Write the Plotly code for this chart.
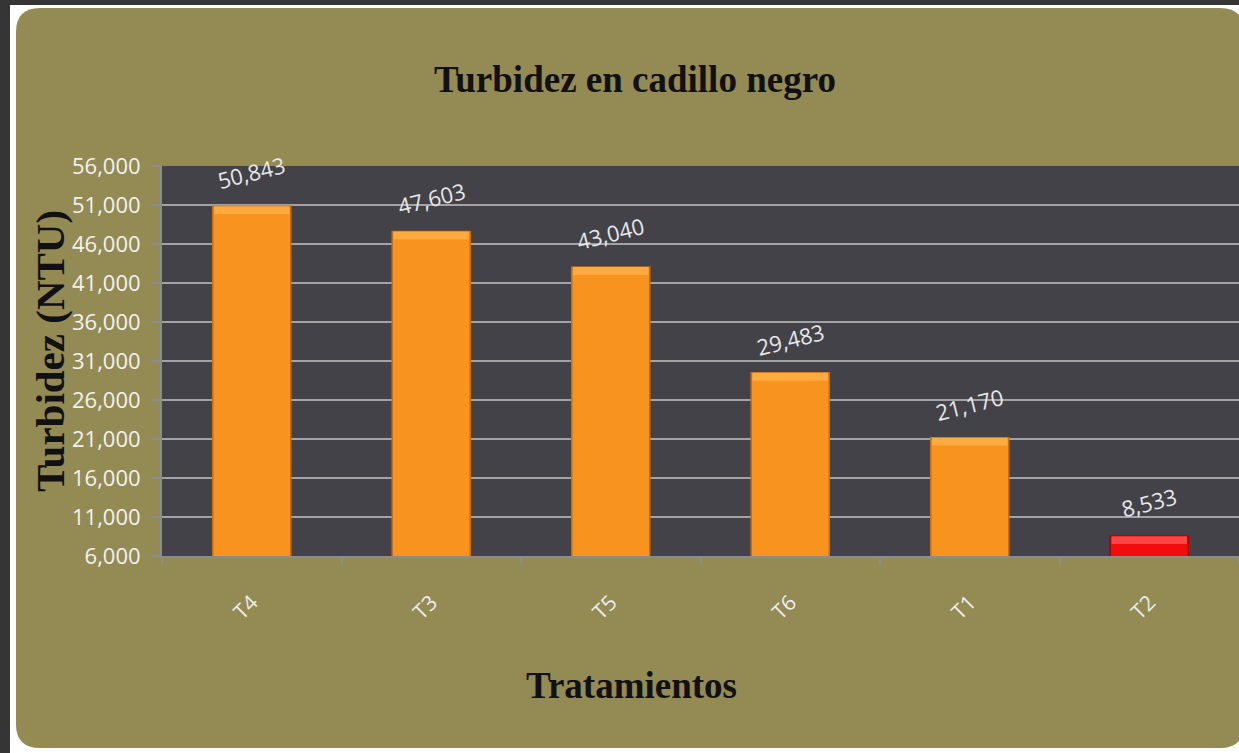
import plotly.graph_objects as go

categories = ["T4", "T3", "T5", "T6", "T1", "T2"]
values = [50843, 47603, 43040, 29483, 21170, 8533]
labels = ["50,843", "47,603", "43,040", "29,483", "21,170", "8,533"]
y_ticks = [6000, 11000, 16000, 21000, 26000, 31000, 36000, 41000, 46000, 51000, 56000]

W, H = 1239, 753
L, R, T, B = 162, 0, 166, 197
PW, PH = W - L - R, H - T - B

def px(x):
    return (x - L) / PW

def py(y):
    return (H - B - y) / PH

body_colors = ["#F7931E"] * 5 + ["#F20D0D"]
edge_colors = ["#C96C12"] * 5 + ["#A80000"]
cap_colors = ["#FFAB40"] * 5 + ["#FF4545"]
cap = 1000

fig = go.Figure()
fig.add_trace(go.Bar(
    x=categories, y=values,
    marker=dict(color=body_colors, line=dict(color=edge_colors, width=1.5)),
    width=0.435, hoverinfo="skip", showlegend=False,
))
fig.add_trace(go.Bar(
    x=categories, y=[cap] * len(values), base=[v - cap for v in values],
    marker=dict(color=cap_colors, line=dict(width=0)),
    width=0.42, hoverinfo="skip", showlegend=False,
))

for c, v, t in zip(categories, values, labels):
    fig.add_annotation(x=c, y=v, text=t, showarrow=False, yshift=34,
                       textangle=-14, xanchor="center", yanchor="middle",
                       font=dict(family="Open Sans", size=22, color="#E8E8E8"))

def rounded_rect(x0, y0, x1, y1, r):
    rx = r / PW
    ry = r / PH
    X0, X1 = px(x0), px(x1)
    Y0, Y1 = py(y0), py(y1)
    return (f"M {X0+rx},{Y0} L {X1-rx},{Y0} Q {X1},{Y0} {X1},{Y0-ry} "
            f"L {X1},{Y1+ry} Q {X1},{Y1} {X1-rx},{Y1} "
            f"L {X0+rx},{Y1} Q {X0},{Y1} {X0},{Y1+ry} "
            f"L {X0},{Y0-ry} Q {X0},{Y0} {X0+rx},{Y0} Z")

shapes = [
    dict(type="rect", xref="paper", yref="paper", x0=px(0), x1=px(10), y0=py(H), y1=py(0),
         fillcolor="#353535", line=dict(width=0), layer="below"),
    dict(type="rect", xref="paper", yref="paper", x0=px(0), x1=px(W), y0=py(5), y1=py(0),
         fillcolor="#353535", line=dict(width=0), layer="below"),
    dict(type="path", xref="paper", yref="paper", path=rounded_rect(16, 8, 1244, 748, 24),
         fillcolor="#948A54", line=dict(width=0), layer="below"),
    dict(type="rect", xref="paper", yref="paper", x0=0, x1=1, y0=0, y1=1,
         fillcolor="#434248", line=dict(width=0), layer="below"),
]

fig.add_annotation(xref="paper", yref="paper", x=px(635), y=py(80),
                   xanchor="center", yanchor="middle",
                   text="<b>Turbidez en cadillo negro</b>", showarrow=False,
                   font=dict(family="Liberation Serif", size=37, color="#111111"))
fig.add_annotation(xref="paper", yref="paper", x=px(631), y=py(685),
                   xanchor="center", yanchor="middle",
                   text="<b>Tratamientos</b>", showarrow=False,
                   font=dict(family="Liberation Serif", size=37, color="#111111"))
fig.add_annotation(xref="paper", yref="paper", x=px(50), y=py(351),
                   xanchor="center", yanchor="middle",
                   text="<b>Turbidez (NTU)</b>", showarrow=False, textangle=-90,
                   font=dict(family="Liberation Serif", size=41, color="#111111"))

fig.update_layout(
    width=W, height=H,
    margin=dict(l=L, r=R, t=T, b=B, pad=0),
    paper_bgcolor="#FFFFFF",
    plot_bgcolor="rgba(0,0,0,0)",
    barmode="overlay",
    shapes=shapes,
    showlegend=False,
)
fig.update_xaxes(
    type="category", showgrid=False, showline=True, linecolor="#8C8C8C", linewidth=2,
    ticks="outside", tickson="boundaries", ticklen=6, tickcolor="#8C8C8C", tickwidth=2,
    tickangle=-45, ticklabelstandoff=24,
    tickfont=dict(family="Open Sans", size=21, color="#EDEDED"),
)
fig.update_yaxes(
    range=[6000, 56000], tickvals=y_ticks, tickformat=",",
    showgrid=True, gridcolor="#A3A3A3", gridwidth=2,
    showline=True, linecolor="#8C8C8C", linewidth=2,
    ticks="outside", ticklen=9, tickcolor="#8C8C8C", tickwidth=2,
    ticklabelstandoff=6, zeroline=False,
    tickfont=dict(family="Open Sans", size=22, color="#F2F2F2"),
)

fig.write_html("out.html", config={"displayModeBar": False},
               post_script="document.body.style.margin='0';document.body.style.overflow='hidden';")
